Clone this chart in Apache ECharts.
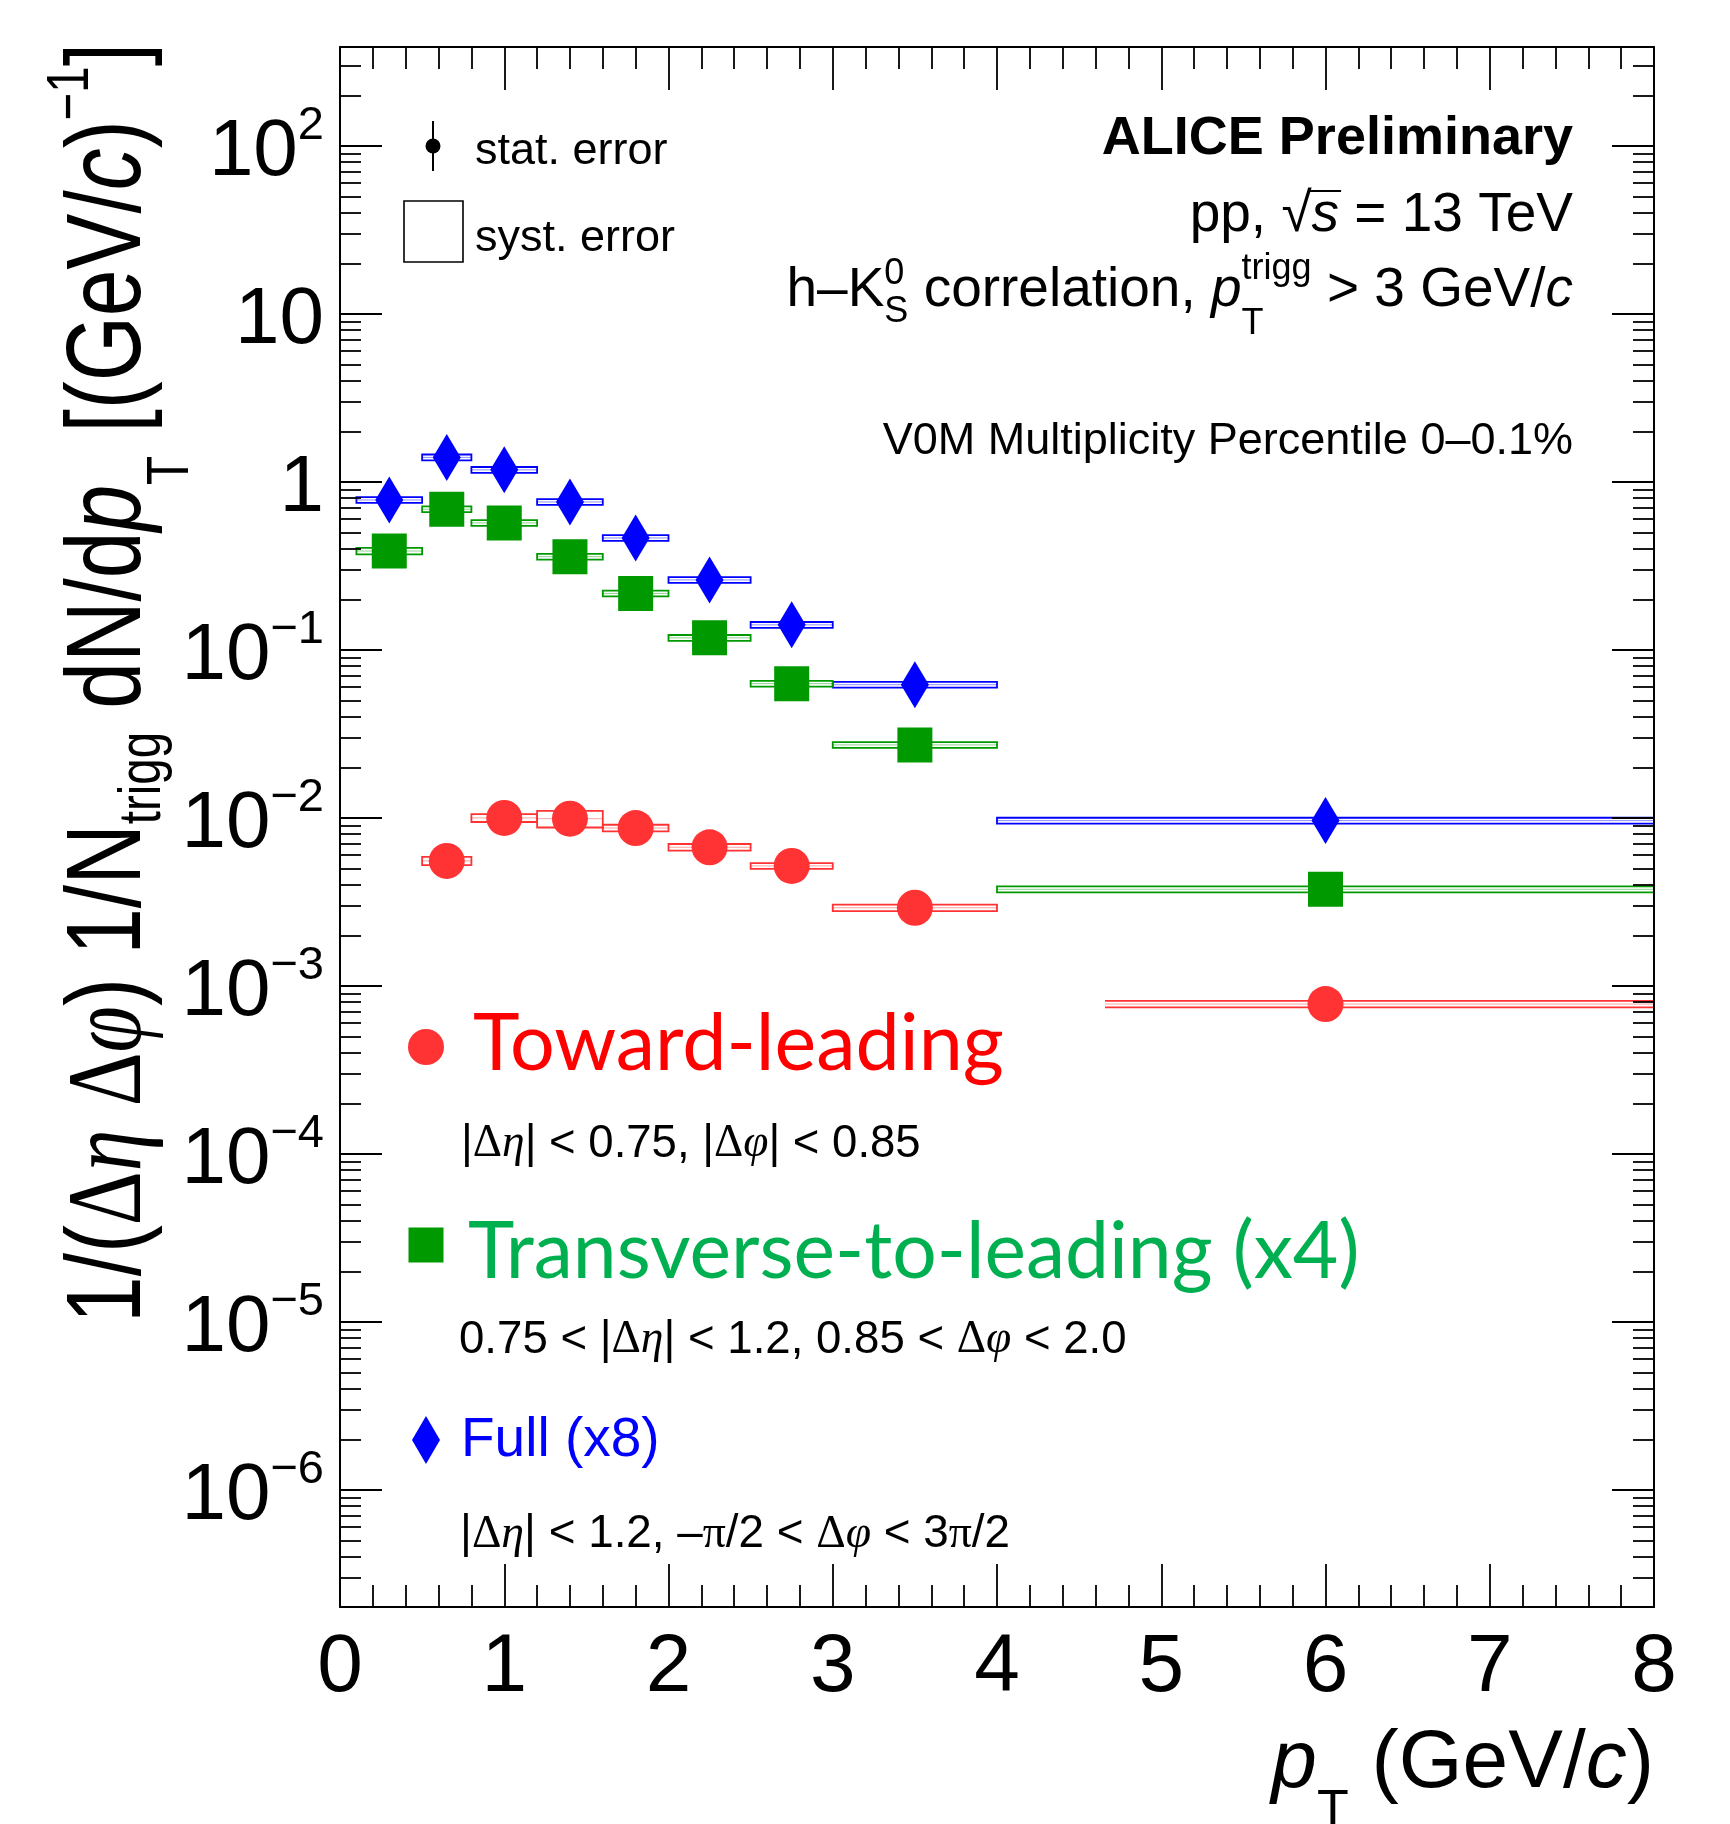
<!DOCTYPE html>
<html>
<head>
<meta charset="utf-8">
<title>h–K0S correlation pT spectra</title>
<script src="https://cdn.jsdelivr.net/npm/echarts@6/dist/echarts.min.js"></script>
<style>
html, body { margin: 0; padding: 0; background: #ffffff; }
#chart { width: 1730px; height: 1824px; }
</style>
</head>
<body>
<div id="chart"></div>
<script>
// pT bins (GeV/c): centres and edges
const binCentre = [0.3, 0.65, 1.0, 1.4, 1.8, 2.25, 2.75, 3.5, 6.0];
const binLow = [0.1, 0.5, 0.8, 1.2, 1.6, 2.0, 2.5, 3.0, 4.0];
const binHigh = [0.5, 0.8, 1.2, 1.6, 2.0, 2.5, 3.0, 4.0, 8.0];

// 1/(Δη Δφ) 1/N_trigg dN/dpT for each region, with the scaling given in the legend
const fullX8 = [0.781, 1.40, 1.18, 0.760, 0.464, 0.261, 0.141, 0.0621, 0.00964];
const transverseX4 = [0.388, 0.688, 0.570, 0.359, 0.217, 0.118, 0.0630, 0.0272, 0.00376];
const towardLeading = [null, 0.00555, 0.0100, 0.0099, 0.00871, 0.00669, 0.00518, 0.00292, 0.00078];

// relative systematic uncertainties
const fullSyst = [0.04, 0.04, 0.04, 0.04, 0.04, 0.04, 0.04, 0.04, 0.04];
const transverseSyst = [0.045, 0.04, 0.04, 0.04, 0.04, 0.04, 0.04, 0.04, 0.04];
const towardSyst = [null, 0.056, 0.054, 0.114, 0.046, 0.046, 0.04, 0.045, 0.045];

// axis ticks
const xTickLabels = ['0', '1', '2', '3', '4', '5', '6', '7', '8'];
const yDecades = [1e-6, 1e-5, 1e-4, 1e-3, 1e-2, 1e-1, 1, 10, 100];

const SANS = '"Liberation Sans", Arial, Helvetica, sans-serif';
const SERIF = '"Liberation Serif", "Times New Roman", serif';
const CAL = 'Lato, "Open Sans", sans-serif';

const COL_FULL = '#0000ff';
const COL_TRANS = '#009900';
const COL_TOWARD = '#ff3333';

// minor log ticks: 2..9 times each decade
const yMinorTicks = [];
[1e-7].concat(yDecades).forEach(d => {
  for (let k = 2; k <= 9; k++) yMinorTicks.push(k * d);
});

const Y_MIN = 2.01e-7;
const Y_MAX = 388;
const TEXT_Z = 20;

// ---------- text layout helpers (baseline-based runs with sub/superscripts) ----------
const ctx2d = document.createElement('canvas').getContext('2d');
function fontOf(p) {
  return (p.italic ? 'italic ' : '') + (p.bold ? 'bold ' : '') + p.size + 'px ' + (p.family || SANS);
}
function measure(p) {
  ctx2d.font = fontOf(p);
  ctx2d.textBaseline = 'alphabetic';
  const m = ctx2d.measureText(p.t);
  const a = m.fontBoundingBoxAscent, d = m.fontBoundingBoxDescent;
  const mid = (a !== undefined && d !== undefined) ? (a - d) / 2 : 0.35 * p.size;
  return { w: m.width, mid: mid };
}
function textRun(pieces, color, baseSize) {
  let x = 0;
  const els = [];
  pieces.forEach(p => {
    const group = p.stack || [p];
    let w = 0;
    group.forEach(q0 => {
      const q = Object.assign({ size: baseSize }, q0);
      const m = measure(q);
      w = Math.max(w, m.w);
      els.push({
        type: 'text', z: TEXT_Z, x: x, y: (q.dy || 0) - m.mid,
        style: { text: q.t, font: fontOf(q), fill: q.color || color, align: 'left', verticalAlign: 'middle' }
      });
      if (q.over) {
        els.push({
          type: 'line', z: TEXT_Z,
          shape: { x1: x - 2, y1: (q.dy || 0) - 0.80 * q.size, x2: x + m.w + 2, y2: (q.dy || 0) - 0.80 * q.size },
          style: { stroke: q.color || color, lineWidth: 2.2 }
        });
      }
    });
    x += w;
  });
  return { els: els, width: x };
}
function placeRun(pieces, opts) {
  const run = textRun(pieces, opts.color || '#000', opts.size);
  const left = opts.align === 'right' ? opts.x - run.width : opts.x;
  return { type: 'group', x: left, y: opts.y, z: TEXT_Z, children: run.els };
}

// ---------- series builders ----------
function errorData(values, syst) {
  const out = [];
  values.forEach((v, i) => {
    if (v == null) return;
    out.push([binLow[i], binHigh[i], v, syst[i], binCentre[i]]);
  });
  return out;
}
function pointData(values) {
  const out = [];
  values.forEach((v, i) => { if (v != null) out.push([binCentre[i], v]); });
  return out;
}
function boxRenderer(color) {
  return function (params, api) {
    const xl = api.value(0), xh = api.value(1), y = api.value(2), s = api.value(3);
    const pTop = api.coord([xl, y * (1 + s)]);
    const pBot = api.coord([xh, y * (1 - s)]);
    const a = api.coord([xl, y]);
    const b = api.coord([xh, y]);
    return {
      type: 'group',
      children: [
        { type: 'rect', shape: { x: pTop[0], y: pTop[1], width: pBot[0] - pTop[0], height: pBot[1] - pTop[1] },
          style: { fill: 'none', stroke: color, lineWidth: 1.8 } },
        { type: 'line', shape: { x1: a[0], y1: a[1], x2: b[0], y2: b[1] },
          style: { stroke: color, lineWidth: 1, opacity: 0.45 } }
      ]
    };
  };
}
function boxSeries(values, syst, color) {
  return {
    type: 'custom', xAxisIndex: 0, yAxisIndex: 0, silent: true, z: 2,
    renderItem: boxRenderer(color),
    encode: { x: [0, 1], y: 2 },
    data: errorData(values, syst)
  };
}
function markerSeries(values, symbol, size, color) {
  return {
    type: 'scatter', xAxisIndex: 0, yAxisIndex: 0, silent: true, z: 3,
    symbol: symbol, symbolSize: size,
    itemStyle: { color: color, opacity: 1 },
    data: pointData(values)
  };
}

// ---------- axes ----------
const tickLine = { color: '#000', width: 1.8 };
function xAxisDef(pos, withLabels) {
  return {
    type: 'value', gridIndex: 0, position: pos, min: 0, max: 8, interval: 1, z: 10,
    axisLine: { show: true, onZero: false, lineStyle: { color: '#000', width: 2 } },
    axisTick: { show: true, inside: true, length: 43, lineStyle: tickLine },
    minorTick: { show: true, splitNumber: 5, length: 22, lineStyle: tickLine },
    splitLine: { show: false }, minorSplitLine: { show: false },
    axisLabel: withLabels ? {
      show: true, margin: 20, color: '#000', fontSize: 82, fontFamily: SANS,
      hideOverlap: false, showMinLabel: true, showMaxLabel: true,
      formatter: v => xTickLabels[Math.round(v)]
    } : { show: false }
  };
}
function yAxisDef(grid, pos, major) {
  const def = {
    type: 'log', logBase: 10, gridIndex: grid, position: pos, min: Y_MIN, max: Y_MAX, z: 10,
    axisLine: { show: major, onZero: false, lineStyle: { color: '#000', width: 2 } },
    axisTick: { show: true, inside: true, length: major ? 42 : 21, lineStyle: tickLine,
      customValues: major ? yDecades : yMinorTicks },
    minorTick: { show: false },
    splitLine: { show: false }, minorSplitLine: { show: false },
    axisLabel: { show: false }
  };
  if (major && pos === 'left') {
    def.axisLabel = {
      show: true, margin: 16, color: '#000', hideOverlap: false,
      customValues: yDecades,
      formatter: v => {
        const e = Math.round(Math.log10(v));
        if (e === 0) return '{m|1}';
        if (e === 1) return '{m|10}';
        return '{m|10}{s|' + (e < 0 ? '\u2212' + (-e) : String(e)) + '}';
      },
      rich: {
        m: { fontSize: 80, fontFamily: SANS, color: '#000', lineHeight: 80, padding: [14, 0, 0, 0] },
        s: { fontSize: 47, fontFamily: SANS, color: '#000', lineHeight: 47, padding: [0, 0, 40, 0] }
      }
    };
  }
  return def;
}

// ---------- annotations ----------
const ETA = { t: 'η', family: SERIF, italic: true };
const PHI = { t: 'φ', family: SERIF, italic: true };
const DEL = { t: 'Δ', family: SERIF };
const PI = { t: 'π', family: SERIF };

const graphics = [];

// white legend pad (drawn above the data, below the axes)
graphics.push({ type: 'rect', z: 5, shape: { x: 341, y: 955, width: 764, height: 640 }, style: { fill: '#ffffff' } });

// stat / syst error key
graphics.push({ type: 'line', z: TEXT_Z, shape: { x1: 433, y1: 121, x2: 433, y2: 171 }, style: { stroke: '#000', lineWidth: 2 } });
graphics.push({ type: 'circle', z: TEXT_Z, shape: { cx: 433, cy: 146, r: 7.5 }, style: { fill: '#000' } });
graphics.push({ type: 'rect', z: TEXT_Z, shape: { x: 404, y: 201, width: 59, height: 61 }, style: { fill: 'none', stroke: '#000', lineWidth: 1.6 } });
graphics.push(placeRun([{ t: 'stat. error' }], { x: 475, y: 167, size: 45 }));
graphics.push(placeRun([{ t: 'syst. error' }], { x: 475, y: 254, size: 45 }));

// experiment / selection text
graphics.push(placeRun([{ t: 'ALICE Preliminary', bold: true }], { x: 1573, y: 158, size: 54, align: 'right' }));
graphics.push(placeRun([{ t: 'pp, ' }, { t: '√' }, { t: 's', italic: true, over: true }, { t: ' = 13 TeV' }],
  { x: 1573, y: 235, size: 55, align: 'right' }));
graphics.push(placeRun([
  { t: 'h–K' },
  { stack: [{ t: '0', size: 36, dy: -23 }, { t: 'S', size: 36, dy: 15 }] },
  { t: ' correlation, ' },
  { t: 'p', italic: true },
  { stack: [{ t: 'trigg', size: 36, dy: -28 }, { t: 'T', size: 36, dy: 27 }] },
  { t: ' > 3 GeV/' },
  { t: 'c', italic: true }
], { x: 1573, y: 310, size: 55, align: 'right' }));
graphics.push(placeRun([{ t: 'V0M Multiplicity Percentile 0–0.1%' }], { x: 1573, y: 457, size: 45, align: 'right' }));

// region legend
graphics.push({ type: 'circle', z: TEXT_Z, shape: { cx: 426, cy: 1047, r: 18 }, style: { fill: COL_TOWARD } });
graphics.push(placeRun([{ t: 'Toward-leading', family: CAL }], { x: 473, y: 1075, size: 79, color: '#ff0000' }));
graphics.push(placeRun([{ t: '|' }, DEL, ETA, { t: '| < 0.75, |' }, DEL, PHI, { t: '| < 0.85' }], { x: 461, y: 1160, size: 45.5 }));

graphics.push({ type: 'rect', z: TEXT_Z, shape: { x: 408.5, y: 1227.5, width: 35, height: 35 }, style: { fill: COL_TRANS } });
graphics.push(placeRun([{ t: 'Transverse-to-leading (x4)', family: CAL }], { x: 468, y: 1283, size: 78.6, color: '#00b050' }));
graphics.push(placeRun([{ t: '0.75 < |' }, DEL, ETA, { t: '| < 1.2, 0.85 < ' }, DEL, PHI, { t: ' < 2.0' }], { x: 459, y: 1356, size: 45.6 }));

graphics.push({ type: 'polygon', z: TEXT_Z, shape: { points: [[426, 1416], [440, 1440], [426, 1464], [412, 1440]] }, style: { fill: COL_FULL } });
graphics.push(placeRun([{ t: 'Full (x8)' }], { x: 461, y: 1460, size: 55, color: '#0000ff' }));
graphics.push(placeRun([{ t: '|' }, DEL, ETA, { t: '| < 1.2, –' }, PI, { t: '/2 < ' }, DEL, PHI, { t: ' < 3' }, PI, { t: '/2' }], { x: 460, y: 1550, size: 45.8 }));

// x-axis title
graphics.push(placeRun([
  { t: 'p', italic: true }, { t: 'T', size: 52, dy: 37 }, { t: ' (GeV/' }, { t: 'c', italic: true }, { t: ')' }
], { x: 1654, y: 1793, size: 82, align: 'right' }));

// y-axis title, rotated and fitted to its length along the axis
(function () {
  const F = 106;
  const run = textRun([
    { t: '1/(' }, DEL, ETA, { t: ' ' }, DEL, PHI, { t: ') 1/N' },
    { t: 'trigg', size: 60, dy: 16 },
    { t: ' dN/d' }, { t: 'p', italic: true }, { t: 'T', size: 60, dy: 44 },
    { t: ' [(GeV/' }, { t: 'c', italic: true }, { t: ')' }, { t: '\u22121', size: 60, dy: -56 }, { t: ']' }
  ], '#000', F);
  run.els.forEach(el => { el.x -= run.width / 2; });
  graphics.push({
    type: 'group', x: 148, y: 683, rotation: Math.PI / 2, scaleX: 1280 / run.width, z: TEXT_Z,
    children: run.els
  });
})();

const chart = echarts.init(document.getElementById('chart'), null, { renderer: 'canvas' });
chart.setOption({
  animation: false,
  backgroundColor: '#ffffff',
  grid: [
    { left: 340, right: 76, top: 47, bottom: 217, containLabel: false, outerBoundsMode: 'none' },
    { left: 340, right: 76, top: 47, bottom: 217, containLabel: false, outerBoundsMode: 'none' }
  ],
  xAxis: [
    xAxisDef('bottom', true),
    xAxisDef('top', false),
    { type: 'value', gridIndex: 1, min: 0, max: 8, show: false }
  ],
  yAxis: [
    yAxisDef(0, 'left', true),
    yAxisDef(0, 'right', true),
    yAxisDef(1, 'left', false),
    yAxisDef(1, 'right', false)
  ],
  series: [
    boxSeries(fullX8, fullSyst, COL_FULL),
    boxSeries(transverseX4, transverseSyst, COL_TRANS),
    boxSeries(towardLeading, towardSyst, COL_TOWARD),
    markerSeries(fullX8, 'diamond', [28, 47], COL_FULL),
    markerSeries(transverseX4, 'rect', [35, 35], COL_TRANS),
    markerSeries(towardLeading, 'circle', 36, COL_TOWARD)
  ],
  graphic: { elements: graphics }
});
</script>
</body>
</html>
